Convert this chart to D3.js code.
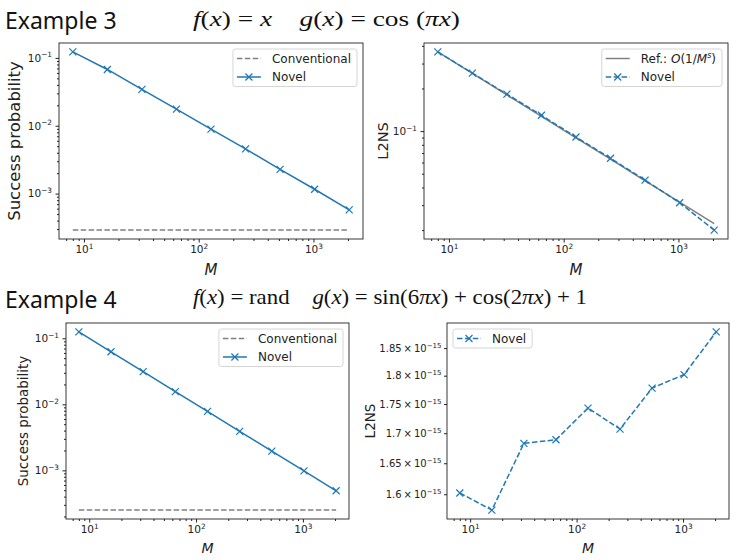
<!DOCTYPE html>
<html>
<head>
<meta charset="utf-8">
<script src="https://cdn.jsdelivr.net/npm/d3@7"></script>
<style>
  body { margin: 0; background: #fff; }
  text { white-space: pre; }
</style>
</head>
<body>
<div id="chart"></div>
<script>
// M values (x axis, shared by every panel)
const M = [8, 16, 32, 64, 128, 256, 512, 1024, 2048];

// Example 3 : f(x) = x, g(x) = cos(pi x)
const ex3SuccessNovel = [0.1225, 0.0675, 0.0344, 0.0176, 0.0089, 0.00456, 0.00228, 0.00116, 0.000577];
const ex3SuccessConv = [2.9e-4, 2.9e-4, 2.9e-4, 2.9e-4, 2.9e-4, 2.9e-4, 2.9e-4, 2.9e-4, 2.9e-4];
const ex3L2nsNovel = [0.3625, 0.257, 0.1823, 0.1294, 0.0908, 0.0643, 0.0451, 0.0312, 0.0200];
const ex3L2nsRef = [0.3625, 0.2556, 0.1803, 0.1272, 0.0897, 0.0633, 0.0446, 0.0315, 0.0222];

// Example 4 : f(x) = rand, g(x) = sin(6 pi x) + cos(2 pi x) + 1
const ex4SuccessNovel = [0.125, 0.0625, 0.03125, 0.0156, 0.0078, 0.0039, 0.00195, 0.00098, 0.00049];
const ex4SuccessConv = [2.5e-4, 2.5e-4, 2.5e-4, 2.5e-4, 2.5e-4, 2.5e-4, 2.5e-4, 2.5e-4, 2.5e-4];
const ex4L2nsNovel = [1.602e-15, 1.575e-15, 1.683e-15, 1.689e-15, 1.743e-15, 1.707e-15, 1.778e-15, 1.802e-15, 1.880e-15];
const ex4L2nsTicks = [1.6e-15, 1.65e-15, 1.7e-15, 1.75e-15, 1.8e-15, 1.85e-15];

const blue = "#1f77b4";
const gray = "#808080";
const ink = "#222";

const svg = d3.select("#chart").append("svg")
    .attr("width", 737)
    .attr("height", 560)
    .style("font-family", '"DejaVu Sans", sans-serif');

// log domain with matplotlib's 5% margins
function logPad(values) {
  const [lo, hi] = d3.extent(values, v => Math.log10(v));
  const m = (hi - lo) * 0.05;
  return [10 ** (lo - m), 10 ** (hi + m)];
}
const isDecade = d => Math.abs(Math.log10(d) - Math.round(Math.log10(d))) < 1e-6;
const minus = s => String(s).replace("-", "\u2212");

function powLabel(sel, pre, exp, size) {
  sel.text(null).attr("font-size", size);
  sel.append("tspan").text(pre + "10");
  sel.append("tspan").attr("font-size", size * 0.7).attr("dy", -size * 0.42).text(minus(exp));
}

function marker(g, cx, cy, color) {
  g.append("path")
      .attr("d", `M${cx - 3.5},${cy - 3.5}L${cx + 3.5},${cy + 3.5}M${cx - 3.5},${cy + 3.5}L${cx + 3.5},${cy - 3.5}`)
      .attr("stroke", color)
      .attr("stroke-width", 1.2)
      .attr("fill", "none");
}

function drawPanel(p) {
  const x = d3.scaleLog(logPad(M), [p.left, p.right]);
  const y = d3.scaleLog(logPad(p.series.flatMap(s => s.values)), [p.bottom, p.top]);
  const g = svg.append("g");
  const fs = p.tickSize || 10.5;

  // x axis
  const xt = x.ticks();
  g.append("g")
      .attr("transform", `translate(0,${p.bottom})`)
      .attr("color", ink)
      .call(d3.axisBottom(x).tickValues(xt.filter(d => !isDecade(d))).tickSize(2).tickFormat(""))
      .call(a => a.select(".domain").remove());
  g.append("g")
      .attr("transform", `translate(0,${p.bottom})`)
      .attr("color", ink)
      .call(d3.axisBottom(x).tickValues(xt.filter(isDecade)).tickSize(3.5).tickPadding(3.5))
      .attr("font-family", null)
      .call(a => a.select(".domain").remove())
      .call(a => a.selectAll(".tick text").each(function(d) {
        powLabel(d3.select(this), "", Math.round(Math.log10(d)), 10.5);
      }));

  // y axis
  if (p.yTicks) {
    g.append("g")
        .attr("transform", `translate(${p.left},0)`)
        .attr("color", ink)
        .call(d3.axisLeft(y).tickValues(p.yTicks).tickSize(3).tickPadding(2.5))
        .attr("font-family", null)
        .call(a => a.select(".domain").remove())
        .call(a => a.selectAll(".tick text").each(function(d) {
          const mant = +(d / 1e-15).toFixed(2);
          powLabel(d3.select(this), mant + "\u2009\u00d7\u2009", -15, fs);
        }));
  } else {
    const yt = y.ticks();
    g.append("g")
        .attr("transform", `translate(${p.left},0)`)
        .attr("color", ink)
        .call(d3.axisLeft(y).tickValues(yt.filter(d => !isDecade(d))).tickSize(2).tickFormat(""))
        .call(a => a.select(".domain").remove());
    g.append("g")
        .attr("transform", `translate(${p.left},0)`)
        .attr("color", ink)
        .call(d3.axisLeft(y).tickValues(yt.filter(isDecade)).tickSize(3.5).tickPadding(3.5))
        .attr("font-family", null)
        .call(a => a.select(".domain").remove())
        .call(a => a.selectAll(".tick text").each(function(d) {
          powLabel(d3.select(this), "", Math.round(Math.log10(d)), fs);
        }));
  }

  // series
  const line = d3.line().x((d, i) => x(M[i])).y(d => y(d));
  p.series.forEach(s => {
    g.append("path")
        .attr("d", line(s.values))
        .attr("fill", "none")
        .attr("stroke", s.color)
        .attr("stroke-width", 1.5)
        .attr("stroke-dasharray", s.dash ? "5.5,2.4" : null);
    if (s.marker) s.values.forEach((v, i) => marker(g, x(M[i]), y(v), s.color));
  });

  // frame
  g.append("rect")
      .attr("x", p.left).attr("y", p.top)
      .attr("width", p.right - p.left).attr("height", p.bottom - p.top)
      .attr("fill", "none").attr("stroke", ink).attr("stroke-width", 0.9);

  // axis labels
  g.append("text")
      .attr("x", (p.left + p.right) / 2).attr("y", p.xLabelY)
      .attr("text-anchor", "middle")
      .attr("font-size", p.xLabelSize)
      .attr("font-style", "italic")
      .attr("fill", ink)
      .text("M");
  g.append("text")
      .attr("transform", `translate(${p.yLabelX},${(p.top + p.bottom) / 2}) rotate(-90)`)
      .attr("text-anchor", "middle")
      .attr("font-size", p.yLabelSize)
      .attr("fill", ink)
      .text(p.yLabel);

  // legend
  const lg = g.append("g");
  const box = lg.append("rect")
      .attr("rx", 2.5)
      .attr("fill", "#fff").attr("fill-opacity", 0.85)
      .attr("stroke", "#d0d0d0").attr("stroke-width", 0.9);
  let maxW = 0;
  const items = p.series.filter(s => s.label);
  items.forEach((s, i) => {
    const cy = p.top + 6 + 9.5 + i * 18.5;
    const row = lg.append("g").attr("class", "row");
    row.append("line")
        .attr("x1", 4).attr("x2", 28).attr("y1", cy).attr("y2", cy)
        .attr("stroke", s.color).attr("stroke-width", 1.5)
        .attr("stroke-dasharray", s.dash ? "5.5,2.4" : null);
    if (s.marker) marker(row, 16, cy, s.color);
    const t = row.append("text")
        .attr("x", 39).attr("y", cy).attr("dy", "0.35em")
        .attr("font-size", 12).attr("fill", ink);
    s.label.forEach(part => {
      const ts = t.append("tspan").text(part.t);
      if (part.i) ts.attr("font-style", "italic");
      if (part.sup) ts.attr("font-size", 8).attr("dy", -5);
      if (part.down) ts.attr("dy", 5);
    });
    maxW = Math.max(maxW, 39 + t.node().getComputedTextLength());
  });
  const w = maxW + 6;
  const h = 2 * 9.5 + (items.length - 1) * 18.5;
  const bx = p.legendSide === "left" ? p.left + 6 : p.right - 6 - w;
  box.attr("x", bx).attr("y", p.top + 6).attr("width", w).attr("height", h);
  lg.selectAll("g.row").attr("transform", `translate(${bx},0)`);
}

// panels
drawPanel({
  left: 59, right: 363, top: 43, bottom: 239,
  xLabelY: 275, xLabelSize: 15, yLabelX: 20, yLabelSize: 16.5, yLabel: "Success probability",
  series: [
    {values: ex3SuccessConv, color: gray, dash: true, label: [{t: "Conventional"}]},
    {values: ex3SuccessNovel, color: blue, marker: true, label: [{t: "Novel"}]}
  ]
});
drawPanel({
  left: 424, right: 728, top: 43, bottom: 239,
  xLabelY: 275, xLabelSize: 15, yLabelX: 388, yLabelSize: 14.5, yLabel: "L2NS",
  series: [
    {values: ex3L2nsRef, color: gray, label: [{t: "Ref.: "}, {t: "O", i: true}, {t: "(1/"}, {t: "M", i: true}, {t: "s", i: true, sup: true}, {t: ")", down: true}]},
    {values: ex3L2nsNovel, color: blue, dash: true, marker: true, label: [{t: "Novel"}]}
  ]
});
drawPanel({
  left: 66, right: 349, top: 323, bottom: 519,
  xLabelY: 553, xLabelSize: 14, yLabelX: 28, yLabelSize: 13.5, yLabel: "Success probability",
  series: [
    {values: ex4SuccessConv, color: gray, dash: true, label: [{t: "Conventional"}]},
    {values: ex4SuccessNovel, color: blue, marker: true, label: [{t: "Novel"}]}
  ]
});
drawPanel({
  left: 447, right: 729, top: 323, bottom: 519,
  xLabelY: 553, xLabelSize: 14, yLabelX: 375, yLabelSize: 13.5, yLabel: "L2NS",
  yTicks: ex4L2nsTicks, legendSide: "left", tickSize: 10,
  series: [
    {values: ex4L2nsNovel, color: blue, dash: true, marker: true, label: [{t: "Novel"}]}
  ]
});

// section titles
svg.append("text").attr("x", 5).attr("y", 29)
    .attr("font-family", '"Noto Sans", sans-serif').attr("font-size", 23).attr("fill", "#111")
    .text("Example 3");
svg.append("text").attr("x", 5).attr("y", 308)
    .attr("font-family", '"Noto Sans", sans-serif').attr("font-size", 23).attr("fill", "#111")
    .text("Example 4");

function formula(x, y, width, parts) {
  const t = svg.append("text").attr("x", x).attr("y", y)
      .attr("font-family", '"Liberation Serif", serif').attr("font-size", 21).attr("fill", "#111");
  parts.forEach(([s, it]) => {
    const ts = t.append("tspan").text(s);
    if (it) ts.attr("font-style", "italic");
  });
  t.attr("textLength", width).attr("lengthAdjust", "spacingAndGlyphs");
}
formula(193, 26, 267, [["f", 1], ["("], ["x", 1], [") = "], ["x", 1], ["    "], ["g", 1], ["("], ["x", 1], [") = cos ("], ["\u03c0", 1], ["x", 1], [")"]]);
formula(193, 304, 394, [["f", 1], ["("], ["x", 1], [") = rand    "], ["g", 1], ["("], ["x", 1], [") = sin(6"], ["\u03c0", 1], ["x", 1], [") + cos(2"], ["\u03c0", 1], ["x", 1], [") + 1"]]);
</script>
</body>
</html>
